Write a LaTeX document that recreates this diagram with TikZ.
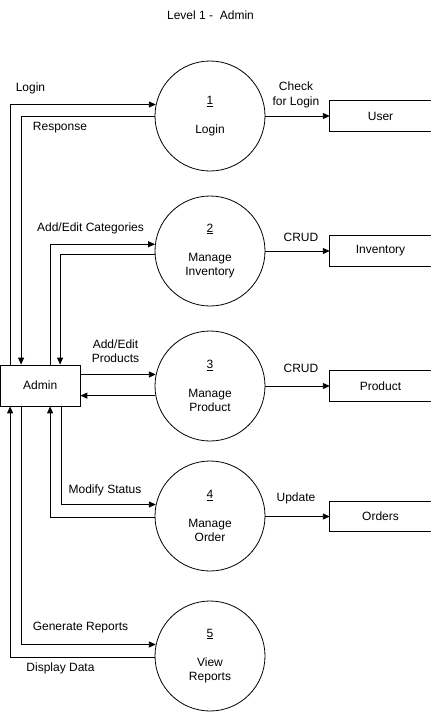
\documentclass[tikz,border=0pt]{standalone}
\usepackage{fontspec}
\setmainfont{Liberation Sans}
\usetikzlibrary{arrows.meta}
\begin{document}
\begin{tikzpicture}[x=1pt,y=-1pt,
  every node/.style={font=\fontsize{12}{14.5}\selectfont, inner sep=0pt},
  proc/.style={circle, draw, line width=0.8pt, minimum size=110pt, align=center},
  ent/.style={rectangle, minimum width=101pt, minimum height=30pt},
  adm/.style={rectangle, draw, line width=0.8pt, minimum width=79.5pt, minimum height=41pt},
  lbl/.style={align=center},
  arr/.style={line width=0.9pt, -{Triangle[length=7pt,width=6pt]}},
  edge3/.style={line width=0.8pt}]
\useasboundingbox (0,0) rectangle (431,712);

\node[lbl] (title) at (210.5,15) {Level 1 -\ \ Admin};

\node[proc] (c1) at (210,116) {\underline{1}\\ \\ Login};
\node[proc] (c2) at (210,251) {\underline{2}\\ \\ Manage\\ Inventory};
\node[proc] (c3) at (210,386) {\underline{3}\\ \\ Manage\\ Product};
\node[proc] (c4) at (210,516) {\underline{4}\\ \\ Manage\\ Order};
\node[proc] (c5) at (210,656) {\underline{5}\\ \\ View\\ Reports};

\node[adm] (admin) at (40.25,385.5) {Admin};

\node[ent] (user) at (380.5,116) {User};
\node[ent] (inv) at (380.5,251) {Inventory};
\node[ent] (prod) at (380.5,386) {Product};
\node[ent] (ord) at (380.5,516.5) {Orders};
\foreach \b in {user,inv,prod,ord}
  \draw[edge3] (\b.north east) -- (\b.north west) -- (\b.south west) -- (\b.south east);

% left side flows
\draw[arr] ([xshift=10]admin.north west) |- (c1.168.5);
\draw[arr] (c1.west) -| ([xshift=21]admin.north west);
\draw[arr] ([xshift=50]admin.north west) |- (c2.173.7);
\draw[arr] (c2.184.2) -| ([xshift=60]admin.north west);
\draw[arr] (admin.east |- c3.168) -- (c3.168);
\draw[arr] (c3.190) -- (admin.east |- c3.190);
\draw[arr] ([xshift=61]admin.south west) |- (c4.168.5);
\draw[arr] (c4.181) -| ([xshift=50]admin.south west);
\draw[arr] ([xshift=21]admin.south west) |- (c5.168.5);
\draw[arr] (c5.181) -| ([xshift=10]admin.south west);

% right side flows
\draw[arr] (c1.east) -- (user.west);
\draw[arr] (c2.east) -- (inv.west);
\draw[arr] (c3.east) -- (prod.west);
\draw[arr] (c4.east |- ord.west) -- (ord.west);

% labels
\node[lbl] (l1) at (30.5,88) {Login};
\node[lbl] (l2) at (60,128) {Response};
\node[lbl] (l3) at (90.5,228) {Add/Edit Categories};
\node[lbl] (l4) at (115.5,351) {Add/Edit\\ Products};
\node[lbl] (l5) at (105,490) {Modify Status};
\node[lbl] (l6) at (80.5,628) {Generate Reports};
\node[lbl] (l7) at (60.5,668) {Display Data};
\node[lbl] (r1) at (296,95) {Check\\ for Login};
\node[lbl] (r2) at (301,237) {CRUD};
\node[lbl] (r3) at (301,368) {CRUD};
\node[lbl] (r4) at (296,498) {Update};
\end{tikzpicture}
\end{document}
